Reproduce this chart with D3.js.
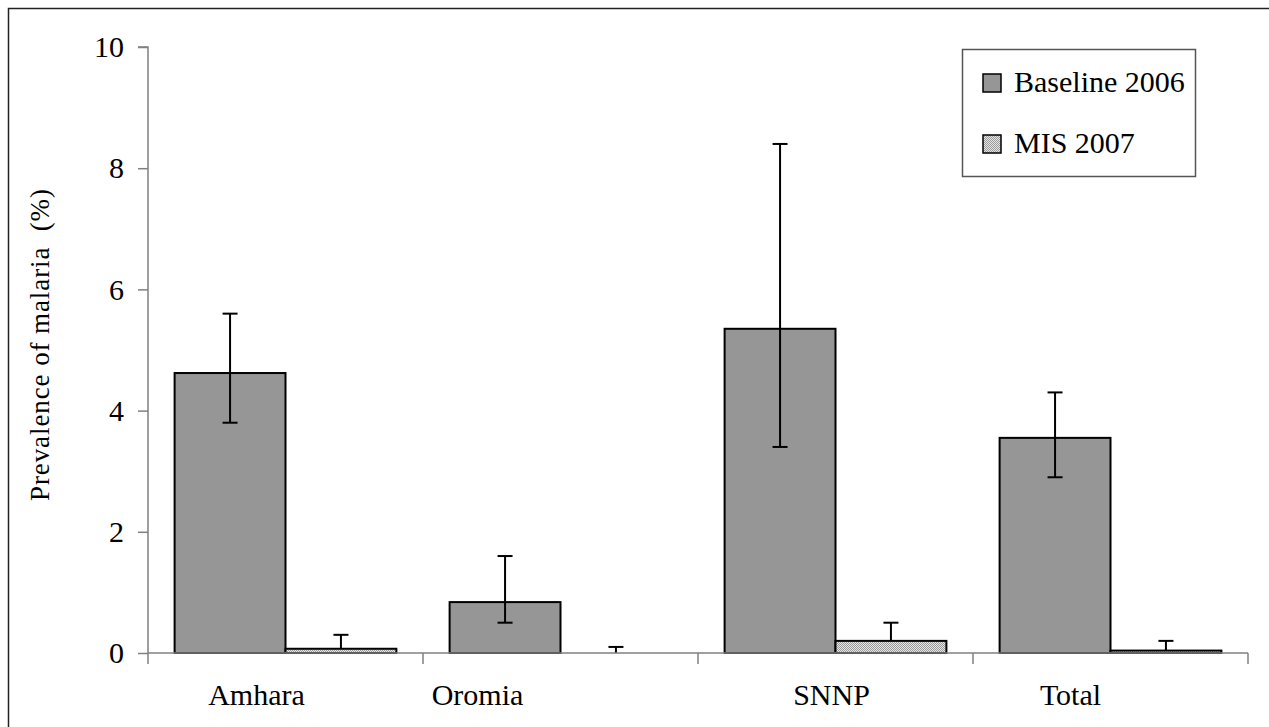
<!DOCTYPE html>
<html>
<head>
    <meta charset="utf-8">
    <style>
        body { margin: 0; background: #fff; }
        svg { display: block; font-family: 'Liberation Serif', 'Times New Roman', serif; }
    </style>
</head>
<body>
<svg width="1269" height="727"></svg>

<script src="https://d3js.org/d3.v7.min.js"></script>
<script>
    //------------------------ DATA ------------------------//
    let regions = ["Amhara", "Oromia", "SNNP", "Total"];
    let seriesNames = ["Baseline 2006", "MIS 2007"];
    let baseline = [4.62, 0.84, 5.35, 3.55];
    let baselineLow = [3.8, 0.5, 3.4, 2.9];
    let baselineHigh = [5.6, 1.6, 8.4, 4.3];
    let mis = [0.07, 0, 0.2, 0.04];
    let misLow = [0.07, 0, 0.2, 0.04];
    let misHigh = [0.3, 0.1, 0.5, 0.2];
    let yTicks = [0, 2, 4, 6, 8, 10];

    //------------------------ SETUP ------------------------//
    let svg = d3.select("svg");
    let margin = {top: 47, left: 148, right: 21, bottom: 74};
    let width = 1269, height = 727;

    // category labels are not centred in the original; shift (px) from band centre
    let labelShift = {"Amhara": -29, "Oromia": -83, "SNNP": -4, "Total": -40};

    // outer frame
    svg.append("rect")
        .attr("x", 8.5).attr("y", 8.5)
        .attr("width", 1300).attr("height", 800)
        .style("fill", "none")
        .style("stroke", "#222")
        .style("stroke-width", 1.5);

    // dotted pattern for MIS bars
    let defs = svg.append("defs");
    let pat = defs.append("pattern")
        .attr("id", "dots")
        .attr("width", 2).attr("height", 2)
        .attr("patternUnits", "userSpaceOnUse");
    pat.append("rect").attr("width", 2).attr("height", 2).style("fill", "#e6e6e6");
    pat.append("rect").attr("width", 1).attr("height", 1).style("fill", "#9a9a9a");
    pat.append("rect").attr("x", 1).attr("y", 1).attr("width", 1).attr("height", 1).style("fill", "#9a9a9a");

    let x0 = d3.scaleBand()
        .domain(regions)
        .range([margin.left, width - margin.right])
        .padding(0);

    let x1 = d3.scaleBand()
        .domain(seriesNames)
        .range([0, x0.bandwidth()])
        .paddingInner(0)
        .paddingOuter(0.24);

    let y = d3.scaleLinear()
        .domain([0, 10])
        .range([653, margin.top]);

    let fills = {"Baseline 2006": "#969696", "MIS 2007": "url(#dots)"};

    let rows = regions.map((r, i) => ({
        region: r,
        bars: [
            {series: "Baseline 2006", v: baseline[i], lo: baselineLow[i], hi: baselineHigh[i]},
            {series: "MIS 2007", v: mis[i], lo: misLow[i], hi: misHigh[i]}
        ]
    }));

    //------------------------ AXES ------------------------//
    let yAxis = svg.append("g")
        .attr("transform", "translate(" + margin.left + ",0)")
        .call(d3.axisLeft(y).tickValues(yTicks).tickSize(10).tickPadding(14).tickFormat(d3.format("d")));
    yAxis.selectAll("path, line").style("stroke", "#808080").style("stroke-width", 1.5);
    yAxis.select(".domain").attr("d", "M-10," + y(10) + "H0V" + y(0));
    yAxis.selectAll("text")
        .style("font-family", "'Liberation Serif', serif")
        .style("font-size", "30px")
        .style("fill", "#000");

    // bars
    let groups = svg.append("g")
        .selectAll("g")
        .data(rows)
        .join("g")
        .attr("transform", d => "translate(" + x0(d.region) + ",0)");

    groups.selectAll("rect")
        .data(d => d.bars)
        .join("rect")
        .attr("x", d => x1(d.series))
        .attr("width", x1.bandwidth())
        .attr("y", d => y(d.v))
        .attr("height", d => y(0) - y(d.v))
        .style("fill", d => fills[d.series])
        .style("stroke", d => d.v > 0 ? "#000" : "none")
        .style("stroke-width", 2);

    // x axis
    let xAxisG = svg.append("g").attr("transform", "translate(0," + y(0) + ")");
    xAxisG.append("line")
        .attr("x1", margin.left).attr("x2", width - margin.right)
        .style("stroke", "#808080").style("stroke-width", 1.5);
    let boundaries = regions.map(r => x0(r)).concat([x0(regions[regions.length - 1]) + x0.bandwidth()]);
    xAxisG.selectAll(".xt")
        .data(boundaries)
        .join("line")
        .attr("class", "xt")
        .attr("x1", d => d).attr("x2", d => d)
        .attr("y1", 0).attr("y2", 11)
        .style("stroke", "#808080").style("stroke-width", 1.5);
    xAxisG.selectAll("text")
        .data(regions)
        .join("text")
        .attr("x", d => x0(d) + x0.bandwidth() / 2 + labelShift[d])
        .attr("y", 52)
        .attr("text-anchor", "middle")
        .style("font-size", "30px")
        .text(d => d);

    // error bars
    let capW = 15;
    let errs = groups.selectAll(".err")
        .data(d => d.bars)
        .join("g")
        .attr("class", "err");
    errs.append("line")
        .attr("x1", d => x1(d.series) + x1.bandwidth() / 2)
        .attr("x2", d => x1(d.series) + x1.bandwidth() / 2)
        .attr("y1", d => y(d.lo))
        .attr("y2", d => y(d.hi))
        .style("stroke", "#000").style("stroke-width", 2);
    errs.append("line")
        .attr("x1", d => x1(d.series) + x1.bandwidth() / 2 - capW / 2)
        .attr("x2", d => x1(d.series) + x1.bandwidth() / 2 + capW / 2)
        .attr("y1", d => y(d.hi)).attr("y2", d => y(d.hi))
        .style("stroke", "#000").style("stroke-width", 2);
    errs.filter(d => d.lo < d.v)
        .append("line")
        .attr("x1", d => x1(d.series) + x1.bandwidth() / 2 - capW / 2)
        .attr("x2", d => x1(d.series) + x1.bandwidth() / 2 + capW / 2)
        .attr("y1", d => y(d.lo)).attr("y2", d => y(d.lo))
        .style("stroke", "#000").style("stroke-width", 2);

    // y label
    svg.append("text")
        .attr("transform", "translate(49,345) rotate(-90)")
        .attr("text-anchor", "middle")
        .attr("textLength", 312)
        .style("font-size", "27px")
        .style("white-space", "pre")
        .text("Prevalence of malaria  (%)");

    //------------------------ LEGEND ------------------------//
    let legend = svg.append("g");
    legend.append("rect")
        .attr("x", 962.5).attr("y", 49.5)
        .attr("width", 233).attr("height", 127)
        .style("fill", "#fff")
        .style("stroke", "#555")
        .style("stroke-width", 1.5);
    let items = legend.selectAll(".item")
        .data(seriesNames)
        .join("g")
        .attr("class", "item")
        .attr("transform", (d, i) => "translate(983," + (74 + i * 61) + ")");
    items.append("rect")
        .attr("width", 18).attr("height", 18)
        .style("fill", d => fills[d])
        .style("stroke", "#000").style("stroke-width", 1.5);
    items.append("text")
        .attr("x", 31).attr("y", 18)
        .style("font-size", "30px")
        .text(d => d);
</script>
</body>
</html>
